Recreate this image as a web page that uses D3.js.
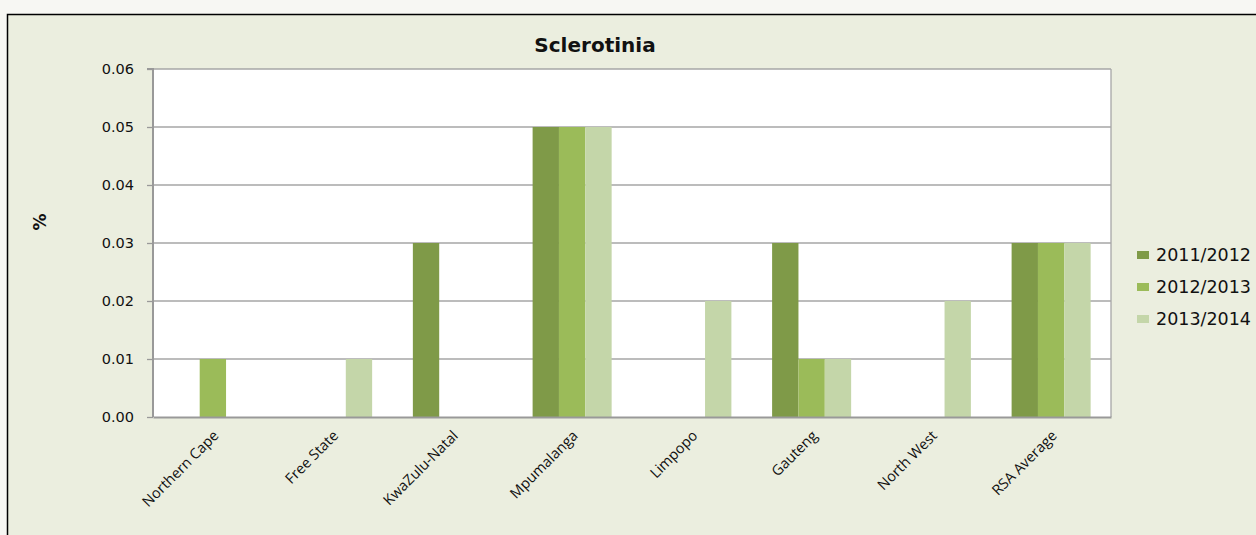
<!DOCTYPE html>
<html><head><meta charset="utf-8">
<script src="https://cdn.jsdelivr.net/npm/d3@7"></script>
<style>
html,body{margin:0;padding:0;background:#f7f7f3;}
svg{display:block;}
</style></head>
<body>
<svg id="chart" width="1256" height="535"></svg>
<script>
const categories = ["Northern Cape","Free State","KwaZulu-Natal","Mpumalanga","Limpopo","Gauteng","North West","RSA Average"];
const seriesNames = ["2011/2012","2012/2013","2013/2014"];
const s2011 = [0, 0, 0.03, 0.05, 0, 0.03, 0, 0.03];
const s2012 = [0.01, 0, 0, 0.05, 0, 0.01, 0, 0.03];
const s2013 = [0, 0.01, 0, 0.05, 0.02, 0.01, 0.02, 0.03];
const yTicks = [0, 0.01, 0.02, 0.03, 0.04, 0.05, 0.06];
const colors = ["#7f9a48", "#9bbb59", "#c4d6a9"];
const title = "Sclerotinia";
const yLabel = "%";

const svg = d3.select("#chart");
svg.append("rect").attr("x",7.5).attr("y",14.5).attr("width",1260).attr("height",540)
  .attr("fill","#ebeedf").attr("stroke","#000").attr("stroke-width",1.5);

const m = {left:153, top:69, right:1111, bottom:417};
const x = d3.scaleBand().domain(categories).range([m.left, m.right]).paddingInner(0).paddingOuter(0);
const y = d3.scaleLinear().domain([0,0.06]).range([m.bottom, m.top]);

svg.append("rect").attr("x",m.left).attr("y",m.top).attr("width",m.right-m.left).attr("height",m.bottom-m.top).attr("fill","#fff");

// gridlines
svg.append("g").selectAll("line").data(yTicks.filter(d=>d>0)).join("line")
  .attr("x1",m.left).attr("x2",m.right).attr("y1",d=>y(d)).attr("y2",d=>y(d))
  .attr("stroke","#a6a6a6").attr("stroke-width",1.3);
svg.append("line").attr("x1",m.right).attr("x2",m.right).attr("y1",m.top).attr("y2",m.bottom).attr("stroke","#a6a6a6").attr("stroke-width",1.3);

const groupW = x.bandwidth()*0.66;
const xs = d3.scaleBand().domain(seriesNames).range([0, groupW]);
const series = [s2011, s2012, s2013];
series.forEach((vals, si) => {
  svg.append("g").selectAll("rect").data(vals.map((v,i)=>({c:categories[i], v}))).join("rect")
    .attr("x", d => x(d.c) + (x.bandwidth()-groupW)/2 + xs(seriesNames[si]))
    .attr("width", xs.bandwidth())
    .attr("y", d => y(d.v))
    .attr("height", d => y(0)-y(d.v))
    .attr("fill", colors[si]);
});

// y axis
const yAxis = d3.axisLeft(y).tickValues(yTicks).tickFormat(d3.format(".2f")).tickSize(6).tickPadding(13);
const ya = svg.append("g").attr("transform",`translate(${m.left},0)`).call(yAxis);
ya.select(".domain").attr("stroke","#999").attr("stroke-width",2).attr("d",`M-6,${m.top}H0V${m.bottom}`);
ya.selectAll(".tick line").attr("stroke","#999").attr("stroke-width",1.3);
ya.selectAll("text").attr("font-family","DejaVu Sans, Verdana, sans-serif").attr("font-size",14.5).attr("fill","#111");

// x axis
const xAxis = d3.axisBottom(x).tickSize(0).tickPadding(0);
const xa = svg.append("g").attr("transform",`translate(0,${m.bottom})`).call(xAxis);
xa.select(".domain").attr("stroke","#999").attr("stroke-width",2);
xa.selectAll("text").attr("font-family","Open Sans, Liberation Sans, sans-serif").attr("font-size",14.5).attr("fill","#111")
  .attr("y",0).attr("text-anchor","end").attr("dy","0.35em")
  .attr("transform","translate(3,16) rotate(-45)");

// title
svg.append("text").attr("x",595).attr("y",52).attr("text-anchor","middle")
  .attr("font-family","DejaVu Sans, Verdana, sans-serif").attr("font-weight","bold").attr("font-size",20).attr("fill","#111").text(title);
// y label
svg.append("text").attr("transform","translate(46,222) rotate(-90)").attr("text-anchor","middle")
  .attr("font-family","DejaVu Sans, Verdana, sans-serif").attr("font-weight","bold").attr("font-size",17).attr("fill","#111").text(yLabel);

// legend
const lg = svg.append("g").selectAll("g").data(seriesNames).join("g")
  .attr("transform",(d,i)=>`translate(1137,${255+i*32})`);
lg.append("rect").attr("x",0).attr("y",-4).attr("width",12).attr("height",8).attr("fill",(d,i)=>colors[i]);
lg.append("text").attr("x",19).attr("y",0).attr("dy","0.36em").attr("font-family","DejaVu Sans, Verdana, sans-serif")
  .attr("font-size",17.5).attr("fill","#111").text(d=>d);
</script>
</body></html>
